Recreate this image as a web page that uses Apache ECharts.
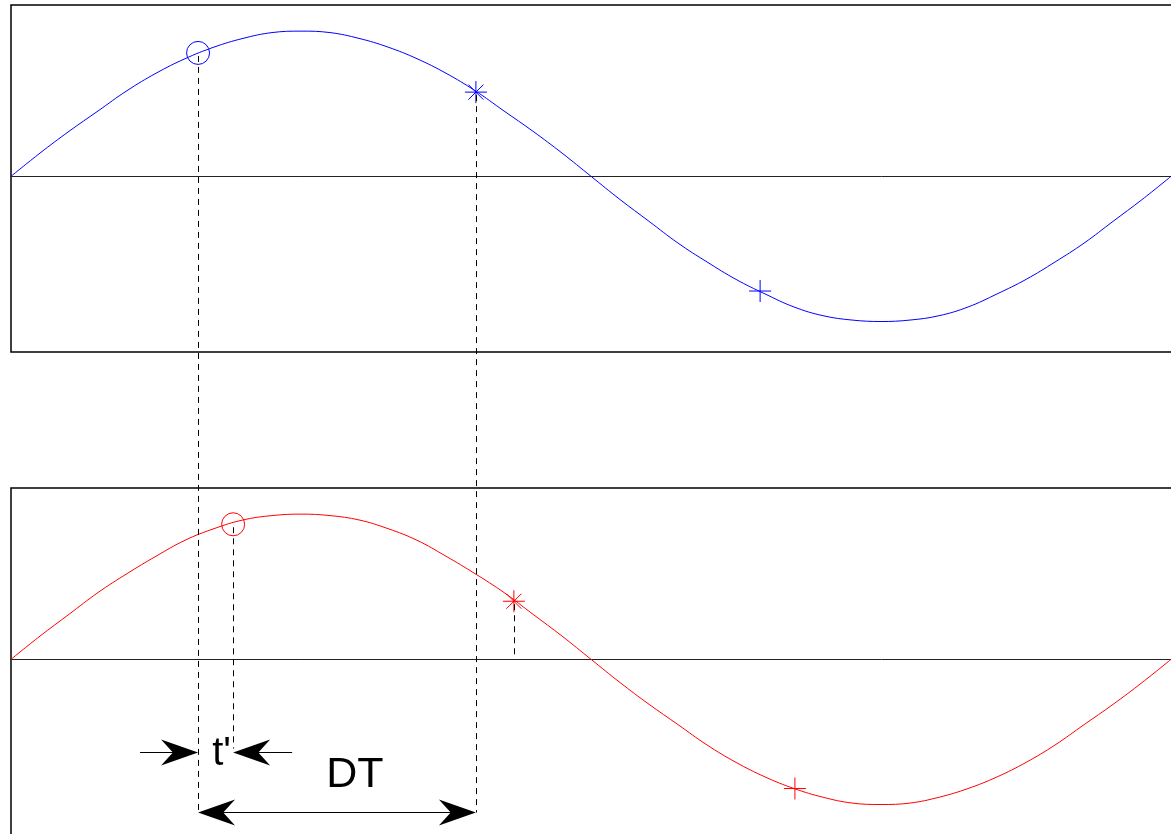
<!DOCTYPE html>
<html>
<head>
<meta charset="utf-8">
<script src="https://cdn.jsdelivr.net/npm/echarts@6/dist/echarts.min.js"></script>
<style>
html,body{margin:0;padding:0;background:#fff;overflow:hidden;}
#c{width:1171px;height:834px;}
</style>
</head>
<body>
<div id="c"></div>
<script>
// sample index (one period = 40 samples)
const samples = [0,1,2,3,4,5,6,7,8,9,10,11,12,13,14,15,16,17,18,19,20,21,22,23,24,25,26,27,28,29,30,31,32,33,34,35,36,37,38,39,40];
// top (blue) signal
const waveA = [0,0.16,0.31,0.45,0.59,0.71,0.81,0.89,0.95,0.99,1.00,0.99,0.95,0.89,0.81,0.71,0.59,0.45,0.31,0.16,0.00,-0.16,-0.31,-0.46,-0.59,-0.71,-0.81,-0.90,-0.96,-0.99,-1.00,-0.99,-0.96,-0.90,-0.81,-0.71,-0.59,-0.46,-0.31,-0.16,0.00];
// bottom (red) signal
const waveB = [0,0.16,0.31,0.46,0.59,0.71,0.82,0.90,0.96,0.99,1.00,0.99,0.96,0.90,0.82,0.71,0.59,0.46,0.31,0.16,0.00,-0.16,-0.31,-0.45,-0.59,-0.71,-0.81,-0.89,-0.95,-0.99,-1.00,-0.99,-0.95,-0.89,-0.81,-0.71,-0.59,-0.45,-0.31,-0.16,0.00];
// marker points [sample, value]
const circleA = [6.45, 0.85];
const starA   = [16.03, 0.58];
const plusA   = [25.83, -0.79];
const circleB = [7.66, 0.93];
const starB   = [17.34, 0.40];
const plusB   = [27.03, -0.89];
// annotation levels in the bottom panel (value units)
const tPrimeLevel = -0.64;
const dtLevel = -1.055;
const labels = ["t'", "DT"];

const BLUE = '#0000ff', RED = '#ff0000';
const STAR = 'path://M0,11L22,11M11,0L11,22M3.5,3.5L18.5,18.5M18.5,3.5L3.5,18.5';
const PLUS = 'path://M0,11L22,11M11,0L11,22';

const chart = echarts.init(document.getElementById('c'), null, {renderer:'canvas'});

function axisPair(i, ymin){
  return {
    x: {type:'value', gridIndex:i, min:0, max:40.17, axisLine:{show:true,onZero:true,lineStyle:{color:'#222',width:1}},
        axisTick:{show:false}, axisLabel:{show:false}, splitLine:{show:false}},
    y: {type:'value', gridIndex:i, min:ymin, max:1.18, axisLine:{show:false}, axisTick:{show:false},
        axisLabel:{show:false}, splitLine:{show:false}}
  };
}
const a0 = axisPair(0, -1.21), a1 = axisPair(1, -1.2445);

function markerSeries(i, pt, sym, color, size){
  return {
    type:'scatter', xAxisIndex:i, yAxisIndex:i, data:[pt], symbol:sym, symbolSize:size, z:5,
    itemStyle:{color:'transparent', borderColor:color, borderWidth:1, opacity:1}, silent:true
  };
}

chart.setOption({
  animation:false,
  backgroundColor:'#fff',
  grid:[
    {left:11, top:5, width:1165, height:347, show:true, borderColor:'#000', borderWidth:1.5, backgroundColor:'transparent',
     containLabel:false, outerBoundsMode:'none'},
    {left:11, top:488, width:1165, height:352, show:true, borderColor:'#000', borderWidth:1.5, backgroundColor:'transparent',
     containLabel:false, outerBoundsMode:'none'}
  ],
  xAxis:[a0.x, a1.x],
  yAxis:[a0.y, a1.y],
  series:[
    {type:'line', xAxisIndex:0, yAxisIndex:0, data:samples.map((s,i)=>[s,waveA[i]]), smooth:0.4, showSymbol:false,
     lineStyle:{color:BLUE, width:1}},
    {type:'line', xAxisIndex:1, yAxisIndex:1, data:samples.map((s,i)=>[s,waveB[i]]), smooth:0.4, showSymbol:false,
     lineStyle:{color:RED, width:1}},
    markerSeries(0, circleA, 'circle', BLUE, 23),
    markerSeries(0, starA, STAR, BLUE, 22),
    markerSeries(0, plusA, PLUS, BLUE, 22),
    markerSeries(1, circleB, 'circle', RED, 23),
    markerSeries(1, starB, STAR, RED, 22),
    markerSeries(1, plusB, PLUS, RED, 22)
  ]
});

const px = (g, p) => chart.convertToPixel({gridIndex:g}, p);
const pCA = px(0, circleA), pSA = px(0, starA);
const pCB = px(1, circleB), pSB = px(1, starB);
const yT = Math.round(px(1, [0, tPrimeLevel])[1]) + 0.5;
const yD = Math.round(px(1, [0, dtLevel])[1]) + 0.5;
const y0B = px(1, [0, 0])[1];
const snap = v => Math.round(v) + 0.5;

const dash = {stroke:'#000', lineWidth:1, lineDash:[6,5]};
function vline(x, y1, y2){
  x = snap(x);
  return {type:'line', shape:{x1:x, y1:y1, x2:x, y2:y2}, style:dash, silent:true, z:10};
}
function head(tx, ty, d){
  const L = 37, h = 13;
  return {type:'polygon', shape:{points:[[tx,ty],[tx-d*L,ty-h],[tx-d*L*0.68,ty],[tx-d*L,ty+h]]},
          style:{fill:'#000'}, silent:true, z:11};
}
function hline(x1, x2, y){
  return {type:'line', shape:{x1:x1, y1:y, x2:x2, y2:y}, style:{stroke:'#000', lineWidth:1}, silent:true, z:11};
}

const g = [];
g.push(vline(pCA[0], pCA[1]+3, yD));
g.push(vline(pSA[0], pSA[1]+3, yD));
g.push(vline(pCB[0], pCB[1]+3, yT-4));
g.push(vline(pSB[0], pSB[1]+3, y0B));
// t' arrows
g.push(hline(pCA[0]-58, pCA[0]-20, yT)); g.push(head(pCA[0], yT, 1));
g.push(hline(pCB[0]+20, pCB[0]+59, yT)); g.push(head(pCB[0], yT, -1));
// DT arrow
g.push(hline(pCA[0]+20, pSA[0]-20, yD)); g.push(head(pCA[0], yD, -1)); g.push(head(pSA[0], yD, 1));
// labels
g.push({type:'text', x:(pCA[0]+pCB[0])/2+6, y:yT+1, silent:true, z:12,
  style:{text:labels[0], font:'40px "Liberation Sans", Arial, sans-serif', fill:'#000', textAlign:'center', textVerticalAlign:'middle'}});
g.push({type:'text', x:(pCA[0]+pSA[0])/2+18, y:yD-37, silent:true, z:12,
  style:{text:labels[1], font:'43px "Liberation Sans", Arial, sans-serif', fill:'#000', textAlign:'center', textVerticalAlign:'middle'}});

chart.setOption({graphic:g});
</script>
</body>
</html>
